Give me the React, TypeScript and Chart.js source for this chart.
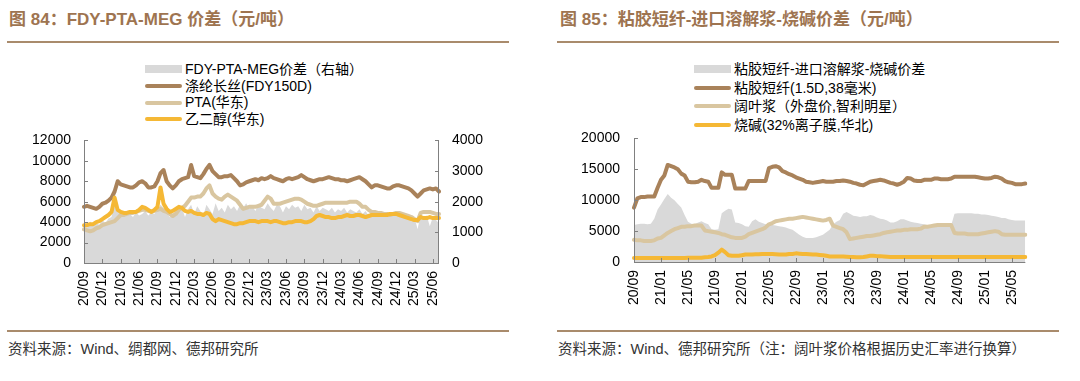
import React, { useEffect, useRef } from "react";
import { Chart, registerables } from "chart.js";
Chart.register(...registerables);

// ---------- shared period labels (semi-monthly, 2020/09 .. 2025/07) ----------
const periods: string[] = [];
for (let i = 0; i < 117; i++) {
  const m = 8 + Math.floor(i / 2);
  const y = 20 + Math.floor(m / 12);
  const mm = (m % 12) + 1;
  periods.push(`${y}/${mm < 10 ? "0" + mm : mm}${i % 2 ? "-16" : "-01"}`);
}

// ---------- Figure 84 ----------
const leftTickLabels = ["20/09","20/12","21/03","21/06","21/09","21/12","22/03","22/06","22/09","22/12","23/03","23/06","23/09","23/12","24/03","24/06","24/09","24/12","25/03","25/06"];
const fdy = [5500,5600,5500,5400,5300,5500,5800,5900,6100,6400,7000,8000,7700,7600,7500,7400,7400,7600,7900,8000,7800,7400,7400,7500,8000,8800,9100,8000,7600,7300,7600,8000,8200,8300,8400,9600,8500,8400,8300,8700,9200,9600,9000,8700,8400,8400,8500,8500,8600,8300,8000,7600,7700,7900,8000,8100,8200,8100,8300,8200,8300,8500,8300,8200,8100,8000,8200,8300,8200,8300,8400,8600,8400,8200,8100,8000,8100,8200,8200,8300,8400,8300,8200,8200,8100,8100,8000,8100,8200,8300,8400,8200,8000,7700,7400,7600,7600,7500,7400,7300,7300,7500,7600,7600,7500,7400,7300,7100,6800,6500,6800,7100,7200,7300,7200,7300,7000];
const pta = [3300,3200,3100,3200,3400,3500,3700,3800,3900,4000,4100,4400,4700,4700,4800,4900,4900,5000,5100,5200,5200,5100,5000,5100,5200,5300,5100,5000,4800,4600,4800,5200,5400,5600,6000,6400,6400,6500,6500,6800,7300,7600,6800,6500,6300,6200,6500,6700,6500,6300,6100,5700,5300,5400,5500,5500,5500,5600,5700,6100,6500,6300,5800,5800,5800,5900,6000,6100,6200,6300,6300,6200,6000,5800,5700,5600,5600,5700,5800,5900,5900,5900,5900,5900,5900,5900,5900,6000,6000,6000,5800,5500,5500,5200,5000,5000,4900,4900,4800,4800,4700,4800,4900,4900,4800,4700,4600,4500,4300,4100,4900,5000,5000,5000,4900,4800,4800];
const meg = [3700,3700,3800,3800,4000,4100,4300,4500,4700,5000,6400,5200,5000,4900,4900,5000,5000,5000,5200,5500,5400,5200,5000,5200,5500,7400,5800,5300,5000,5100,5300,5500,5400,5100,5000,5100,4900,4800,4800,4700,4900,4800,4300,4100,4300,4200,4100,4000,3900,3800,3800,3900,3900,4000,4100,4100,4100,4000,4100,4100,4100,4000,4100,4100,4000,3900,3900,4000,4000,4100,4100,4100,4000,4000,4100,4300,4600,4700,4600,4500,4500,4400,4400,4500,4500,4600,4700,4600,4600,4700,4700,4600,4500,4600,4700,4700,4700,4700,4700,4700,4800,4800,4800,4700,4600,4500,4400,4300,4200,4200,4500,4400,4400,4500,4400,4400,4400];
const fdySpread = [1250,1150,1350,1200,1300,1250,1400,1300,1450,1500,2400,1700,1600,1500,1550,1600,1500,1650,1550,1600,1700,1550,1650,1600,1750,1900,1800,1650,1500,1600,1700,1650,1800,1500,1750,1900,1600,1850,1700,1550,1900,1750,1600,1950,1700,1800,1650,1900,1750,1850,1700,1900,1800,1950,1750,1850,1700,1900,1800,1750,1950,1800,1700,1900,1850,1650,1850,1750,1900,1800,1850,1700,1900,1750,1800,1650,1850,1700,1800,1750,1700,1800,1650,1750,1700,1800,1650,1750,1700,1650,1750,1600,1700,1550,1650,1600,1700,1550,1650,1600,1650,1550,1600,1500,1600,1450,1550,1350,1500,1100,1600,1500,1550,1200,1500,1400,1300];

// ---------- Figure 85 ----------
const rightTickLabels = ["20/09","21/01","21/05","21/09","22/01","22/05","22/09","23/01","23/05","23/09","24/01","24/05","24/09","25/01","25/05"];
const viscose = [8800,10300,10500,10500,10600,10600,10600,12000,13300,14000,15700,15500,15300,15000,14300,14000,13000,12900,12900,13000,13300,13100,13000,12000,12000,12000,14500,14100,14100,14100,11900,11900,11900,11900,13100,13100,13100,13100,13100,13100,15200,15400,15500,15300,14700,14500,14200,14000,13700,13500,13300,13000,12900,12800,12900,13000,13100,13000,13000,13000,13100,13100,13200,13100,13000,12800,12700,12500,12400,12700,13000,13100,13200,13300,13200,13000,12800,12700,12500,12700,13000,13600,13500,13200,13100,13100,13300,13300,13300,13500,13500,13400,13400,13400,13500,13800,13800,13800,13800,13800,13800,13800,13700,13600,13500,13500,13600,13800,13700,13500,13100,12900,12800,12600,12600,12600,12700];
const pulp = [3600,3500,3500,3400,3400,3400,3500,3800,3900,4300,4700,5000,5300,5500,5700,5700,5800,5800,5900,5900,5900,5100,5000,4900,4800,4700,4500,4400,4200,4000,3900,3900,3900,4100,4500,4700,4900,5100,5300,5600,6100,6300,6600,6700,6800,6900,7000,7000,7100,7200,7300,7200,7100,7000,6900,6800,6700,6800,7000,5900,5700,5500,5300,4800,3700,3800,3900,4000,4100,4200,4200,4300,4400,4500,4700,4800,4900,5000,5100,5100,5200,5200,5300,5300,5300,5400,5700,5700,5800,5900,6000,6000,6000,6000,6000,4700,4600,4600,4600,4500,4500,4500,4500,4600,4700,4800,4900,5000,4900,4500,4400,4400,4400,4400,4400,4400,4400];
const causticSoda = [650,650,650,650,650,650,650,650,650,650,650,650,650,650,650,650,700,700,700,700,700,750,800,900,1100,1500,2000,1600,1100,1000,1000,1000,1100,1200,1200,1200,1250,1250,1300,1300,1300,1300,1250,1200,1200,1200,1300,1300,1400,1350,1300,1300,1250,1200,1200,1150,1100,1000,900,900,900,900,900,850,800,800,750,750,800,900,1000,1000,950,950,900,850,800,800,800,800,800,800,800,800,800,800,800,800,800,800,800,800,800,800,800,800,800,800,800,800,800,800,800,800,800,800,800,800,800,800,800,800,800,800,800,800,800];
const viscoseSpread = [6000,6100,6200,6200,6100,6200,7000,8500,9300,10200,11000,10400,10000,9400,8800,7600,6500,6200,6100,6400,6600,6300,6100,5300,5200,5300,7900,8300,8600,8500,6400,6300,6100,5800,5700,6600,6900,6500,6300,6100,6100,6000,5900,5800,5700,5600,5400,5200,4800,4400,4100,3900,3900,3900,4000,4200,4400,4800,5200,6100,6500,6800,7800,8100,7800,7500,7400,7300,7400,7400,7600,7500,7200,7000,6900,6700,6400,6400,6600,6900,6900,6700,6500,6400,6300,6200,6100,6000,5900,5900,5900,5900,5900,5900,5900,7800,7900,7900,7900,7900,7900,7800,7800,7700,7700,7600,7500,7400,7300,7100,7100,6900,6800,6700,6700,6700,6700];

// ---------- styles ----------
const BROWN = "#A9825A";
const TAN = "#D9C6A0";
const ORANGE = "#F5B835";
const GREY = "#D9D9D9";
const AXIS = "#808080";
const TITLE = "#9E7450";
const RULE = "#A98B6C";
const FONT = '"Liberation Sans", Arial, "Noto Sans CJK SC", sans-serif';

const axisPlugin = {
  id: "axisPlugin",
  afterDraw(chart: any) {
    const ctx = chart.ctx;
    const area = chart.chartArea;
    ctx.save();
    ctx.strokeStyle = AXIS;
    ctx.lineWidth = 1;
    Object.values(chart.scales).forEach((scale: any) => {
      ctx.beginPath();
      if (scale.axis === "x") {
        const y = Math.round(area.bottom) + 0.5;
        ctx.moveTo(area.left, y);
        ctx.lineTo(area.right, y);
      } else if (scale.position === "left") {
        const x = Math.round(area.left) + 0.5;
        ctx.moveTo(x, area.top);
        ctx.lineTo(x, area.bottom);
      } else {
        const x = Math.round(area.right) - 0.5;
        ctx.moveTo(x, area.top);
        ctx.lineTo(x, area.bottom);
      }
      ctx.stroke();
      scale.ticks.forEach((t: any, i: number) => {
        if (t.label === null || t.label === undefined || t.label === "") return;
        const p = Math.round(scale.getPixelForTick(i)) + 0.5;
        ctx.beginPath();
        if (scale.axis === "x") {
          ctx.moveTo(p, area.bottom);
          ctx.lineTo(p, area.bottom - 4);
        } else if (scale.position === "left") {
          ctx.moveTo(area.left, p);
          ctx.lineTo(area.left + 4, p);
        } else {
          ctx.moveTo(area.right, p);
          ctx.lineTo(area.right - 4, p);
        }
        ctx.stroke();
      });
    });
    ctx.restore();
  },
};

const tickFont = { family: FONT, size: 14 };
const plainNum = (v: any) => String(v);

function lineDs(label: string, data: number[], color: string, order: number, yAxisID = "y") {
  return {
    label,
    data,
    borderColor: color,
    backgroundColor: color,
    borderWidth: 4,
    pointRadius: 0,
    tension: 0,
    borderJoinStyle: "round" as const,
    borderCapStyle: "round" as const,
    fill: false,
    order,
    yAxisID,
  };
}

function areaDs(label: string, data: number[], order: number, yAxisID: string) {
  return {
    label,
    data,
    borderColor: GREY,
    backgroundColor: GREY,
    borderWidth: 0,
    pointRadius: 0,
    tension: 0,
    fill: "origin",
    order,
    yAxisID,
  };
}

function LeftChart() {
  const ref = useRef<HTMLCanvasElement>(null);
  useEffect(() => {
    const chart = new Chart(ref.current!, {
      type: "line",
      data: {
        labels: periods,
        datasets: [
          areaDs("FDY-PTA-MEG价差（右轴）", fdySpread, 10, "y1"),
          lineDs("涤纶长丝(FDY150D)", fdy, BROWN, 3),
          lineDs("PTA(华东)", pta, TAN, 2),
          lineDs("乙二醇(华东)", meg, ORANGE, 1),
        ] as any,
      },
      options: {
        animation: false,
        responsive: false,
        layout: { padding: { top: 10, right: 0, bottom: 0, left: 0 } },
        plugins: { legend: { display: false }, tooltip: { enabled: false } },
        scales: {
          x: {
            type: "category",
            grid: { display: false, drawTicks: false },
            border: { display: false },
            ticks: {
              autoSkip: false,
              maxRotation: 90,
              minRotation: 90,
              padding: 8,
              color: "#000",
              font: tickFont,
              callback: (_v: any, i: number) => (i % 6 === 0 ? leftTickLabels[i / 6] : null),
            },
            afterFit: (s: any) => { s.height = 50; },
          },
          y: {
            position: "left",
            min: 0,
            max: 12000,
            grid: { display: false, drawTicks: false },
            border: { display: false },
            ticks: { stepSize: 2000, padding: 13, color: "#000", font: tickFont, callback: plainNum },
            afterFit: (s: any) => { s.width = 54; },
          },
          y1: {
            position: "right",
            min: 0,
            max: 4000,
            grid: { display: false, drawTicks: false },
            border: { display: false },
            ticks: { stepSize: 1000, padding: 13, color: "#000", font: tickFont, callback: plainNum },
            afterFit: (s: any) => { s.width = 61; },
          },
        },
      },
      plugins: [axisPlugin],
    });
    return () => chart.destroy();
  }, []);
  return <canvas ref={ref} width={470} height={194} style={{ position: "absolute", left: 30, top: 119 }} />;
}

function RightChart() {
  const ref = useRef<HTMLCanvasElement>(null);
  useEffect(() => {
    const chart = new Chart(ref.current!, {
      type: "line",
      data: {
        labels: periods,
        datasets: [
          areaDs("粘胶短纤-进口溶解浆-烧碱价差", viscoseSpread, 10, "y"),
          lineDs("粘胶短纤(1.5D,38毫米)", viscose, BROWN, 3),
          lineDs("阔叶浆（外盘价,智利明星）", pulp, TAN, 2),
          lineDs("烧碱(32%离子膜,华北)", causticSoda, ORANGE, 1),
        ] as any,
      },
      options: {
        animation: false,
        responsive: false,
        layout: { padding: { top: 10, right: 10, bottom: 0, left: 0 } },
        plugins: { legend: { display: false }, tooltip: { enabled: false } },
        scales: {
          x: {
            type: "category",
            grid: { display: false, drawTicks: false },
            border: { display: false },
            ticks: {
              autoSkip: false,
              maxRotation: 90,
              minRotation: 90,
              padding: 8,
              color: "#000",
              font: tickFont,
              callback: (_v: any, i: number) => (i % 8 === 0 ? rightTickLabels[i / 8] : null),
            },
            afterFit: (s: any) => { s.height = 50; },
          },
          y: {
            position: "left",
            min: 0,
            max: 20000,
            grid: { display: false, drawTicks: false },
            border: { display: false },
            ticks: { stepSize: 5000, padding: 14, color: "#000", font: tickFont, callback: plainNum },
            afterFit: (s: any) => { s.width = 60; },
          },
        },
      },
      plugins: [axisPlugin],
    });
    return () => chart.destroy();
  }, []);
  return <canvas ref={ref} width={463} height={196} style={{ position: "absolute", left: 574, top: 116 }} />;
}

type LegendItem = { label: string; color: string; kind: "box" | "line" };

function Legend({ items, left, top, rowH }: { items: LegendItem[]; left: number; top: number; rowH: number }) {
  return (
    <div style={{ position: "absolute", left, top }}>
      {items.map((it, i) => (
        <div key={i} style={{ display: "flex", alignItems: "center", height: rowH, whiteSpace: "nowrap" }}>
          <div
            style={{
              width: 37,
              height: it.kind === "box" ? 8 : 4,
              borderRadius: it.kind === "box" ? 0 : 2,
              background: it.color,
              marginRight: 3,
            }}
          />
          <span style={{ fontSize: 14, lineHeight: `${rowH}px`, color: "#000", fontFamily: FONT }}>{it.label}</span>
        </div>
      ))}
    </div>
  );
}

const leftLegend: LegendItem[] = [
  { label: "FDY-PTA-MEG价差（右轴）", color: GREY, kind: "box" },
  { label: "涤纶长丝(FDY150D)", color: BROWN, kind: "line" },
  { label: "PTA(华东)", color: TAN, kind: "line" },
  { label: "乙二醇(华东)", color: ORANGE, kind: "line" },
];
const rightLegend: LegendItem[] = [
  { label: "粘胶短纤-进口溶解浆-烧碱价差", color: GREY, kind: "box" },
  { label: "粘胶短纤(1.5D,38毫米)", color: BROWN, kind: "line" },
  { label: "阔叶浆（外盘价,智利明星）", color: TAN, kind: "line" },
  { label: "烧碱(32%离子膜,华北)", color: ORANGE, kind: "line" },
];

const titleStyle: React.CSSProperties = {
  position: "absolute",
  top: 10,
  fontSize: 17,
  lineHeight: "20px",
  fontWeight: "bold",
  color: TITLE,
  fontFamily: FONT,
  whiteSpace: "nowrap",
};
const sourceStyle: React.CSSProperties = {
  position: "absolute",
  top: 340,
  fontSize: 14.5,
  lineHeight: "18px",
  color: "#333",
  fontFamily: FONT,
  whiteSpace: "nowrap",
};

export default function App() {
  return (
    <div style={{ position: "absolute", left: 0, top: 0, width: 1080, height: 381, background: "#fff", overflow: "hidden" }}>
      <div style={{ ...titleStyle, left: 9 }}>图 84：FDY-PTA-MEG 价差（元/吨）</div>
      <div style={{ position: "absolute", left: 7, top: 41, width: 502, height: 2, background: RULE }} />
      <div style={{ ...titleStyle, left: 560 }}>图 85：粘胶短纤-进口溶解浆-烧碱价差（元/吨）</div>
      <div style={{ position: "absolute", left: 557, top: 41, width: 502, height: 2, background: RULE }} />

      <Legend items={leftLegend} left={145} top={61} rowH={16.7} />
      <Legend items={rightLegend} left={694} top={60} rowH={18.5} />

      <LeftChart />
      <RightChart />

      <div style={{ position: "absolute", left: 7, top: 330, width: 502, height: 2, background: RULE }} />
      <div style={{ ...sourceStyle, left: 8 }}>资料来源：Wind、绸都网、德邦研究所</div>
      <div style={{ position: "absolute", left: 557, top: 330, width: 502, height: 2, background: RULE }} />
      <div style={{ ...sourceStyle, left: 558 }}>资料来源：Wind、德邦研究所（注：阔叶浆价格根据历史汇率进行换算）</div>
    </div>
  );
}
